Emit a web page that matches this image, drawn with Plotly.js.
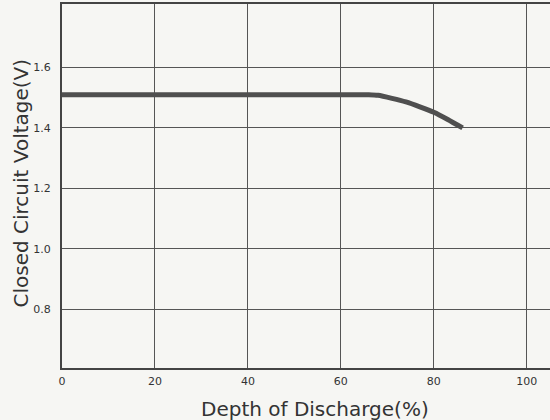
<!DOCTYPE html>
<html>
<head>
<meta charset="utf-8">
<script src="https://cdn.plot.ly/plotly-3.0.1.min.js"></script>
<style>
html,body{margin:0;padding:0;background:#f6f6f3;overflow:hidden;}
#chart{width:550px;height:420px;}
</style>
</head>
<body>
<div id="chart"></div>
<script>
// Data
var depthPct = [0, 20, 40, 60, 66, 68, 71, 74, 77, 80, 83, 86.2];
var voltage  = [1.51, 1.51, 1.51, 1.51, 1.51, 1.508, 1.498, 1.486, 1.47, 1.452, 1.428, 1.40];
var xTickVals = [0, 20, 40, 60, 80, 100];
var xTickText = ["0", "20", "40", "60", "80", "100"];
var yTickVals = [0.8, 1.0, 1.2, 1.4, 1.6];
var yTickText = ["0.8", "1.0", "1.2", "1.4", "1.6"];
var xTitle = "Depth of Discharge(%)";
var yTitle = "Closed Circuit Voltage(V)";

var trace = {
  x: depthPct,
  y: voltage,
  mode: "lines",
  line: {color: "#4f4f4f", width: 5, shape: "spline", smoothing: 0.6},
  hoverinfo: "skip"
};

var layout = {
  width: 550,
  height: 420,
  margin: {l: 62, r: 0, t: 4, b: 52},
  paper_bgcolor: "#f6f6f3",
  plot_bgcolor: "#f6f6f3",
  showlegend: false,
  font: {family: "DejaVu Sans, sans-serif", color: "#333"},
  xaxis: {
    range: [0, 105],
    tickvals: xTickVals,
    ticktext: xTickText,
    ticks: "",
    showgrid: true,
    gridcolor: "#555",
    gridwidth: 1,
    showline: true,
    linecolor: "#444",
    linewidth: 2,
    mirror: true,
    zeroline: false,
    tickfont: {size: 11, color: "#333"},
    ticklabelstandoff: 2
  },
  yaxis: {
    range: [0.606, 1.81],
    tickvals: yTickVals,
    ticktext: yTickText,
    ticks: "",
    showgrid: true,
    gridcolor: "#555",
    gridwidth: 1,
    showline: true,
    linecolor: "#444",
    linewidth: 2,
    mirror: true,
    zeroline: false,
    tickfont: {size: 11, color: "#333"},
    ticklabelstandoff: 7
  },
  annotations: [
    {text: xTitle, xref: "paper", yref: "paper", x: (315 - 62) / 488, y: -(409 - 368) / 364,
     xanchor: "center", yanchor: "middle", showarrow: false,
     font: {family: "DejaVu Sans, sans-serif", size: 20, color: "#333"}},
    {text: yTitle, xref: "paper", yref: "paper", x: (20 - 62) / 488, y: 1 - (183.5 - 4) / 364,
     xanchor: "center", yanchor: "middle", textangle: -90, showarrow: false,
     font: {family: "DejaVu Sans, sans-serif", size: 20, color: "#333"}}
  ]
};

Plotly.newPlot("chart", [trace], layout, {displayModeBar: false, staticPlot: true});
</script>
</body>
</html>
